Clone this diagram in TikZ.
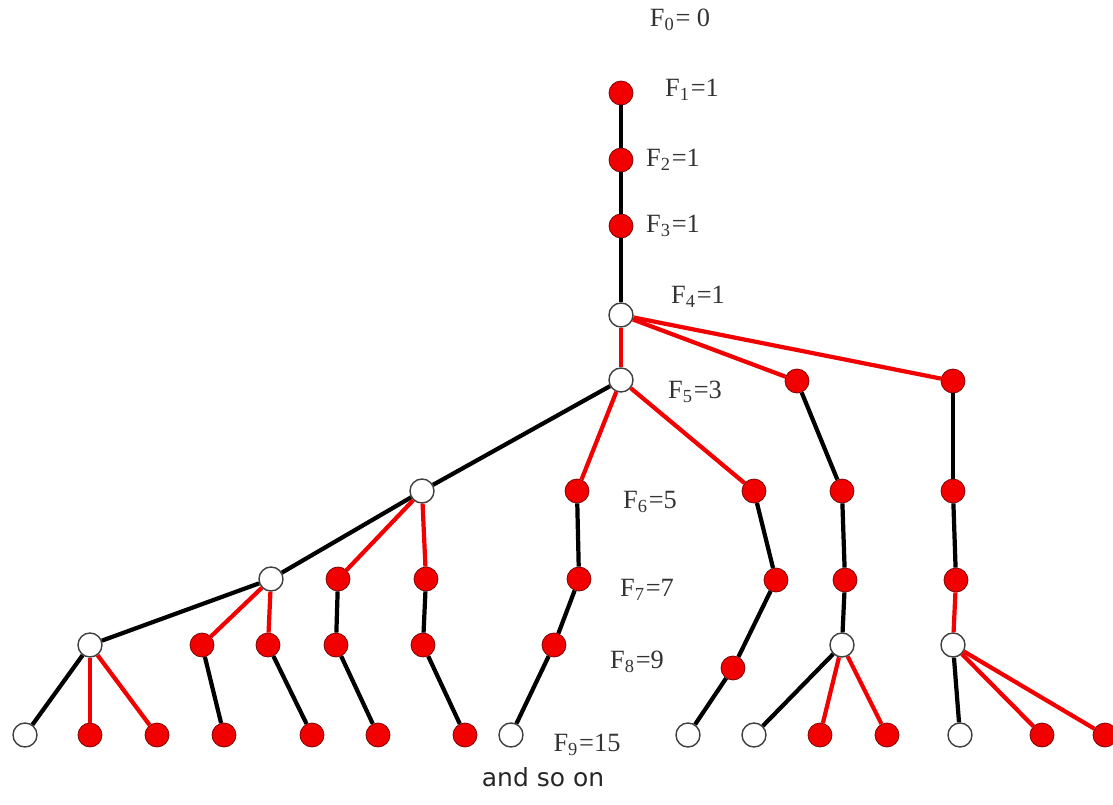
\documentclass[tikz,border=0pt]{standalone}
\usepackage{fontspec}
\setmainfont{Liberation Serif}
\newfontfamily\notefont{DejaVu Sans}
\usetikzlibrary{positioning}

\tikzset{
  rdot/.style={circle,minimum size=0.24cm,inner sep=0pt,fill=red!95!black,draw=red!45!black,very thin},
  wdot/.style={circle,minimum size=0.24cm,inner sep=0pt,fill=white,draw=black!75,thin},
  redge/.style={draw=red!95!black,line width=1.2pt},
  bedge/.style={draw=black,line width=1.2pt},
  flabel/.style={font=\fontsize{7.5}{9}\selectfont,text=black!80}
}

\begin{document}
\begin{tikzpicture}
\useasboundingbox (0,0) rectangle (11.13,-8.05);

% the stem
\node[rdot] (f1) at (6.21,-0.93) {};
\node[rdot] (f2) at (6.21,-1.60) {};
\node[rdot] (f3) at (6.21,-2.26) {};
\node[wdot] (f4) at (6.21,-3.15) {};

% level 5
\node[wdot] (a5) at (6.21,-3.80) {};
\node[rdot] (b5) at (7.97,-3.81) {};
\node[rdot] (c5) at (9.53,-3.81) {};

% level 6
\node[wdot] (a6) at (4.22,-4.91) {};
\node[rdot] (b6) at (5.77,-4.91) {};
\node[rdot] (c6) at (7.54,-4.91) {};
\node[rdot] (d6) at (8.42,-4.91) {};
\node[rdot] (e6) at (9.53,-4.91) {};

% level 7
\node[wdot] (a7) at (2.71,-5.79) {};
\node[rdot] (b7) at (3.38,-5.79) {};
\node[rdot] (c7) at (4.26,-5.79) {};
\node[rdot] (d7) at (5.79,-5.79) {};
\node[rdot] (e7) at (7.76,-5.80) {};
\node[rdot] (f7) at (8.45,-5.80) {};
\node[rdot] (g7) at (9.56,-5.80) {};

% level 8
\node[wdot] (a8) at (0.90,-6.45) {};
\node[rdot] (b8) at (2.02,-6.45) {};
\node[rdot] (c8) at (2.68,-6.45) {};
\node[rdot] (d8) at (3.36,-6.45) {};
\node[rdot] (e8) at (4.23,-6.45) {};
\node[rdot] (f8) at (5.54,-6.45) {};
\node[rdot] (g8) at (7.33,-6.68) {};
\node[wdot] (h8) at (8.42,-6.45) {};
\node[wdot] (i8) at (9.53,-6.45) {};

% level 9
\node[wdot] (a9) at (0.25,-7.35) {};
\node[rdot] (b9) at (0.90,-7.35) {};
\node[rdot] (c9) at (1.57,-7.35) {};
\node[rdot] (d9) at (2.24,-7.35) {};
\node[rdot] (e9) at (3.12,-7.35) {};
\node[rdot] (f9) at (3.78,-7.35) {};
\node[rdot] (g9) at (4.65,-7.35) {};
\node[wdot] (h9) at (5.11,-7.35) {};
\node[wdot] (i9) at (6.88,-7.35) {};
\node[wdot] (j9) at (7.54,-7.35) {};
\node[rdot] (k9) at (8.20,-7.35) {};
\node[rdot] (l9) at (8.87,-7.35) {};
\node[wdot] (m9) at (9.60,-7.35) {};
\node[rdot] (n9) at (10.42,-7.35) {};
\node[rdot] (o9) at (11.05,-7.35) {};

% edges
\draw[bedge] (f1) -- (f2);
\draw[bedge] (f2) -- (f3);
\draw[bedge] (f3) -- (f4);
\draw[redge] (f4) -- (a5);
\draw[redge] (f4) -- (b5);
\draw[redge] (f4) -- (c5);

\draw[bedge] (a5) -- (a6);
\draw[redge] (a5) -- (b6);
\draw[redge] (a5) -- (c6);
\draw[bedge] (b5) -- (d6);
\draw[bedge] (c5) -- (e6);

\draw[bedge] (a6) -- (a7);
\draw[redge] (a6) -- (b7);
\draw[redge] (a6) -- (c7);
\draw[bedge] (b6) -- (d7);
\draw[bedge] (c6) -- (e7);
\draw[bedge] (d6) -- (f7);
\draw[bedge] (e6) -- (g7);

\draw[bedge] (a7) -- (a8);
\draw[redge] (a7) -- (b8);
\draw[redge] (a7) -- (c8);
\draw[bedge] (b7) -- (d8);
\draw[bedge] (c7) -- (e8);
\draw[bedge] (d7) -- (f8);
\draw[bedge] (e7) -- (g8);
\draw[bedge] (f7) -- (h8);
\draw[redge] (g7) -- (i8);

\draw[bedge] (a8) -- (a9);
\draw[redge] (a8) -- (b9);
\draw[redge] (a8) -- (c9);
\draw[bedge] (b8) -- (d9);
\draw[bedge] (c8) -- (e9);
\draw[bedge] (d8) -- (f9);
\draw[bedge] (e8) -- (g9);
\draw[bedge] (f8) -- (h9);
\draw[bedge] (g8) -- (i9);
\draw[bedge] (h8) -- (j9);
\draw[redge] (h8) -- (k9);
\draw[redge] (h8) -- (l9);
\draw[bedge] (i8) -- (m9);
\draw[redge] (i8) -- (n9);
\draw[redge] (i8) -- (o9);

% counts per level
\node[flabel] (l0) at (6.80,-0.20) {F\textsubscript{0}= 0};
\node[flabel] (l1) at (6.92,-0.90) {F\textsubscript{1}=1};
\node[flabel] (l2) at (6.73,-1.60) {F\textsubscript{2}=1};
\node[flabel] (l3) at (6.73,-2.26) {F\textsubscript{3}=1};
\node[flabel] (l4) at (6.98,-2.97) {F\textsubscript{4}=1};
\node[flabel] (l5) at (6.95,-3.92) {F\textsubscript{5}=3};
\node[flabel] (l6) at (6.50,-5.02) {F\textsubscript{6}=5};
\node[flabel] (l7) at (6.47,-5.90) {F\textsubscript{7}=7};
\node[flabel] (l8) at (6.37,-6.62) {F\textsubscript{8}=9};
\node[flabel] (l9) at (5.87,-7.45) {F\textsubscript{9}=15};
\node[font=\notefont\fontsize{7.1}{8.5}\selectfont,text=black!85] (etc) at (5.43,-7.77) {and so on};

\end{tikzpicture}
\end{document}
